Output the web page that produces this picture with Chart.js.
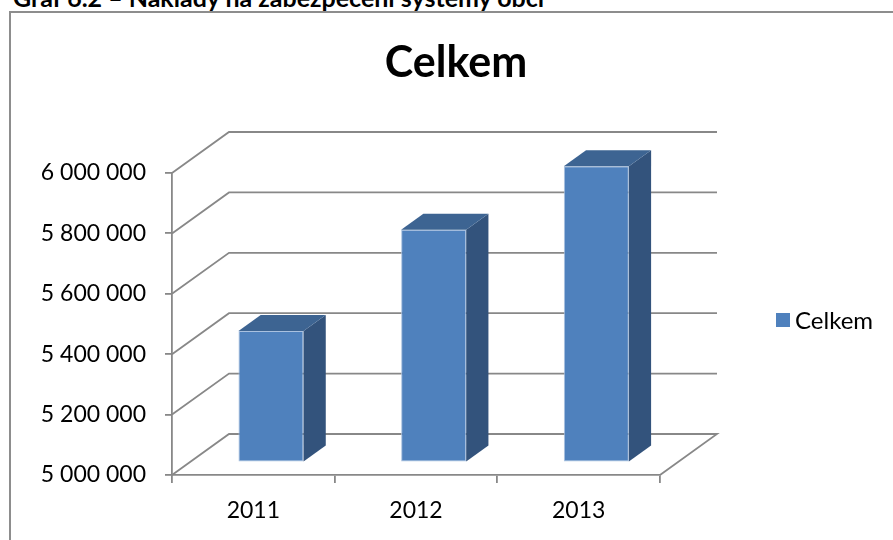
<!DOCTYPE html>
<html lang="cs">
<head>
<meta charset="utf-8">
<title>Celkem</title>
<script src="https://cdn.jsdelivr.net/npm/chart.js@4.4.1/dist/chart.umd.min.js"></script>
<style>
  html, body { margin: 0; padding: 0; background: #fff; overflow: hidden; }
  #page { position: relative; width: 893px; height: 540px; overflow: hidden; }
  #caption { position: absolute; left: 13px; top: -16px; margin: 0; font: bold 25px/26px Lato, sans-serif; color: #000; white-space: nowrap; }
  #frame { position: absolute; left: 9px; top: 11px; width: 1000px; height: 1000px; border: 2px solid #8d8d8d; }
  #chart { position: absolute; left: 0; top: 0; }
</style>
</head>
<body>
<div id="page">
  <p id="caption">Graf 6.2 – Náklady na zabezpečení systémy obcí</p>
  <div id="frame"></div>
  <canvas id="chart" width="893" height="540"></canvas>
</div>
<script>
const years = ['2011', '2012', '2013'];
const celkem = [5435000, 5770000, 5980000];
const yTicks = [5000000, 5200000, 5400000, 5600000, 5800000, 6000000];
const seriesName = 'Celkem';

const gridColor = '#888888';
// floor depth of the 3d box, in px
const wallDx = 57;
const wallDy = -41;
// where the bars sit in the depth and how deep they are (fractions of the floor)
const barShift = 0.31;
const barDepth = 0.39;

// 6000000 -> "6 000 000"
function fmt(v) {
    return String(v).replace(/\B(?=(\d{3})+(?!\d))/g, ' ');
}

const box3d = {
    id: 'box3d',
    beforeDatasetsDraw(chart) {
        const { ctx, chartArea: a, scales: { y } } = chart;
        ctx.save();
        ctx.strokeStyle = gridColor;
        ctx.lineWidth = 1.8;
        y.ticks.forEach((t, i) => {
            const py = y.getPixelForValue(t.value);
            ctx.beginPath();
            ctx.moveTo(a.left, py);
            ctx.lineTo(a.left + wallDx, py + wallDy);
            ctx.lineTo(a.right + wallDx, py + wallDy);
            if (i === 0) ctx.lineTo(a.right, py); // floor, right edge
            ctx.stroke();
        });
        ctx.restore();

        // bars stand a bit inside the box
        ctx.save();
        ctx.translate(wallDx * barShift, wallDy * barShift);
    },
    afterDatasetsDraw(chart) {
        const ctx = chart.ctx;
        const dx = wallDx * barDepth;
        const dy = wallDy * barDepth;
        chart.getDatasetMeta(0).data.forEach(bar => {
            const l = bar.x - bar.width / 2;
            const r = bar.x + bar.width / 2;
            // side
            ctx.fillStyle = '#33537c';
            ctx.beginPath();
            ctx.moveTo(r, bar.y);
            ctx.lineTo(r + dx, bar.y + dy);
            ctx.lineTo(r + dx, bar.base + dy);
            ctx.lineTo(r, bar.base);
            ctx.closePath();
            ctx.fill();
            // top
            ctx.fillStyle = '#3d6492';
            ctx.beginPath();
            ctx.moveTo(l, bar.y);
            ctx.lineTo(l + dx, bar.y + dy);
            ctx.lineTo(r + dx, bar.y + dy);
            ctx.lineTo(r, bar.y);
            ctx.closePath();
            ctx.fill();
        });
        ctx.restore();
    },
    afterDraw(chart) {
        const ctx = chart.ctx;
        const ds = chart.data.datasets[0];
        ctx.save();
        ctx.fillStyle = '#000';
        // title
        ctx.font = 'bold 43px Lato';
        ctx.textAlign = 'center';
        ctx.textBaseline = 'middle';
        ctx.fillText(ds.label, 456, 63);
        // legend
        ctx.fillStyle = ds.backgroundColor;
        ctx.fillRect(776, 313, 14, 14);
        ctx.fillStyle = '#000';
        ctx.font = '24px Lato';
        ctx.textAlign = 'left';
        ctx.fillText(ds.label, 795, 321);
        ctx.restore();
    }
};

Chart.defaults.font.family = 'Lato';
Chart.defaults.color = '#000';

new Chart(document.getElementById('chart'), {
    type: 'bar',
    data: {
        labels: years,
        datasets: [{
            label: seriesName,
            data: celkem,
            base: yTicks[0],
            backgroundColor: '#4f81bd',
            borderColor: '#a9c1e0',
            borderWidth: 1,
            borderSkipped: false,
            barPercentage: 0.4,
            categoryPercentage: 1,
            clip: false
        }]
    },
    options: {
        responsive: false,
        animation: false,
        events: [],
        layout: { padding: { left: 19, right: 233, top: 173, bottom: 0 } },
        plugins: {
            legend: { display: false },
            title: { display: false },
            tooltip: { enabled: false }
        },
        scales: {
            x: {
                ticks: { font: { size: 23 }, padding: 14 },
                grid: { drawOnChartArea: false, tickLength: 8, color: gridColor, lineWidth: 1.8, offset: true },
                border: { color: gridColor, width: 1.8 },
                afterFit: s => { s.height = 65; }
            },
            y: {
                min: yTicks[0],
                max: yTicks[yTicks.length - 1],
                afterBuildTicks: s => { s.ticks = yTicks.map(v => ({ value: v })); },
                ticks: { font: { size: 23 }, padding: 19, callback: v => fmt(v) },
                grid: { drawOnChartArea: false, tickLength: 7, color: gridColor, lineWidth: 1.8 },
                border: { color: gridColor, width: 1.8 },
                afterFit: s => { s.width = 153; }
            }
        }
    },
    plugins: [box3d]
});
</script>
</body>
</html>
